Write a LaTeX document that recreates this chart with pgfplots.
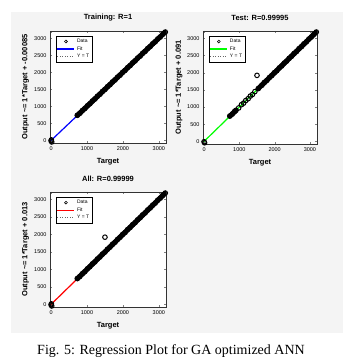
\documentclass[border=0pt]{standalone}
\usepackage{pgfplots}
\pgfplotsset{compat=1.18}
\usepackage{fontspec}
\setmainfont{Liberation Sans}
\newfontfamily\timesfont{Liberation Serif}
\definecolor{bggray}{HTML}{F4F4F4}

\pgfplotsset{
  regr/.style={
    scale only axis,
    xmin=-30, xmax=3200, ymin=-75, ymax=3210,
    xtick={0,1000,2000,3000}, ytick={0,500,1000,1500,2000,2500,3000},
    /pgf/number format/1000 sep={},
    /pgf/number format/assume math mode=true,
    tick label style={font=\fontsize{5.5}{6}\selectfont},
    tick align=inside, major tick length=2pt,
    axis background/.style={fill=white},
    axis line style={black!80},
    label style={font=\fontsize{7.5}{8}\selectfont\bfseries},
    title style={font=\fontsize{7.5}{8}\selectfont\bfseries, at={(axis description cs:0.5,1)}, anchor=south, yshift=0.5pt},
    xlabel style={at={(axis description cs:0.5,-0.165)}, anchor=center},
    ylabel style={at={(axis description cs:-0.21,0.5)}, anchor=center, rotate=0},
    legend style={font=\fontsize{5}{5.5}\selectfont, at={(axis description cs:0.05,0.955)}, anchor=north west, draw=black, fill=white, inner sep=0.8pt, row sep=-1.5pt, line width=0.4pt},
    legend cell align=left,
  },
  datamk/.style={only marks, mark=o, mark size=2.3pt, black, line width=1pt},
  band/.style={black, line width=5pt, line cap=round, no marks},
}

% dense part of the scatter (thousands of overlapping points)
\pgfplotstableread{
x y
730 730
1200 1200
1800 1800
2400 2400
3180 3180
}\bandfull

\pgfplotstableread{
x y
730 730
905 905
}\bandtestlow

\pgfplotstableread{
x y
1535 1535
2200 2200
3180 3180
}\bandtesthigh

\pgfplotstableread{
x y
0 -12
18 -45
8 15
730 740
800 795
870 876
940 934
1010 1016
1080 1074
1150 1156
1220 1214
1290 1296
1360 1354
1430 1436
1500 1494
1570 1576
1640 1634
1710 1716
1780 1774
1850 1856
1920 1914
1990 1996
2060 2054
2130 2136
2200 2194
2270 2276
2340 2334
2410 2416
2480 2474
2550 2556
2620 2614
2690 2696
2760 2754
2830 2836
2900 2894
2970 2976
3040 3034
3110 3116
3180 3180
}\traindata

\pgfplotstableread{
x y
0 -10
15 -40
730 740
800 795
870 876
905 905
980 972
1060 1068
1120 1112
1180 1188
1250 1242
1310 1318
1370 1362
1440 1448
1500 1920
1535 1535
1640 1634
1710 1716
1780 1774
1850 1856
1920 1914
1990 1996
2060 2054
2130 2136
2200 2194
2270 2276
2340 2334
2410 2416
2480 2474
2550 2556
2620 2614
2690 2696
2760 2754
2830 2836
2900 2894
2970 2976
3040 3034
3110 3116
3180 3180
}\testdata

\pgfplotstableread{
x y
0 -12
18 -45
8 15
1500 1920
730 740
800 795
870 876
940 934
1010 1016
1080 1074
1150 1156
1220 1214
1290 1296
1360 1354
1430 1436
1500 1494
1570 1576
1640 1634
1710 1716
1780 1774
1850 1856
1920 1914
1990 1996
2060 2054
2130 2136
2200 2194
2270 2276
2340 2334
2410 2416
2480 2474
2550 2556
2620 2614
2690 2696
2760 2754
2830 2836
2900 2894
2970 2976
3040 3034
3110 3116
3180 3180
}\alldata

\begin{document}
\begin{tikzpicture}[x=1pt,y=1pt]
\fill[white] (0,0) rectangle (361,364);
\fill[bggray] (11,31) rectangle (343,352);
\node[font=\timesfont\fontsize{14}{16}\selectfont, anchor=center] at (171,13) {Fig. 5: Regression Plot for GA optimized ANN};

% Training
\begin{axis}[regr, at={(50pt,221pt)}, anchor=south west, width=116pt, height=112pt,
  title={Training: R=1}, xlabel={Target}, ylabel={Output \textasciitilde= 1*Target + -0.00085}]
\addlegendimage{only marks, mark=o, mark size=1.4pt, black, line width=0.6pt}
\addlegendentry{Data}
\addlegendimage{blue, line width=1.2pt}
\addlegendentry{Fit}
\addlegendimage{dotted, black!60, line width=0.5pt}
\addlegendentry{Y = T}
\addplot[dotted, black!60, forget plot] coordinates {(-30,-30) (3180,3180)};
\addplot[blue, line width=1.2pt, forget plot] coordinates {(0,0) (3180,3180)};
\addplot[band, forget plot] table[x=x,y=y] {\bandfull};
\addplot[datamk, forget plot] table[x=x,y=y] {\traindata};
\end{axis}

% Test
\begin{axis}[regr, at={(203pt,220pt)}, anchor=south west, width=114pt, height=113pt,
  title={Test: R=0.99995}, xlabel={Target}, ylabel={Output \textasciitilde= 1*Target + 0.091}]
\addlegendimage{only marks, mark=o, mark size=1.4pt, black, line width=0.6pt}
\addlegendentry{Data}
\addlegendimage{green, line width=1.2pt}
\addlegendentry{Fit}
\addlegendimage{dotted, black!60, line width=0.5pt}
\addlegendentry{Y = T}
\addplot[dotted, black!60, forget plot] coordinates {(-30,-30) (3180,3180)};
\addplot[green, line width=1.2pt, forget plot] coordinates {(0,0) (3180,3180)};
\addplot[band, forget plot] table[x=x,y=y] {\bandtestlow};
\addplot[band, forget plot] table[x=x,y=y] {\bandtesthigh};
\addplot[datamk, forget plot] table[x=x,y=y] {\testdata};
\end{axis}

% All
\begin{axis}[regr, at={(50pt,57pt)}, anchor=south west, width=116pt, height=115pt,
  title={All: R=0.99999}, xlabel={Target}, ylabel={Output \textasciitilde= 1*Target + 0.013}]
\addlegendimage{only marks, mark=o, mark size=1.4pt, black, line width=0.6pt}
\addlegendentry{Data}
\addlegendimage{red, line width=1.2pt}
\addlegendentry{Fit}
\addlegendimage{dotted, black!60, line width=0.5pt}
\addlegendentry{Y = T}
\addplot[dotted, black!60, forget plot] coordinates {(-30,-30) (3180,3180)};
\addplot[red, line width=1.2pt, forget plot] coordinates {(0,0) (3180,3180)};
\addplot[band, forget plot] table[x=x,y=y] {\bandfull};
\addplot[datamk, forget plot] table[x=x,y=y] {\alldata};
\end{axis}
\end{tikzpicture}
\end{document}
